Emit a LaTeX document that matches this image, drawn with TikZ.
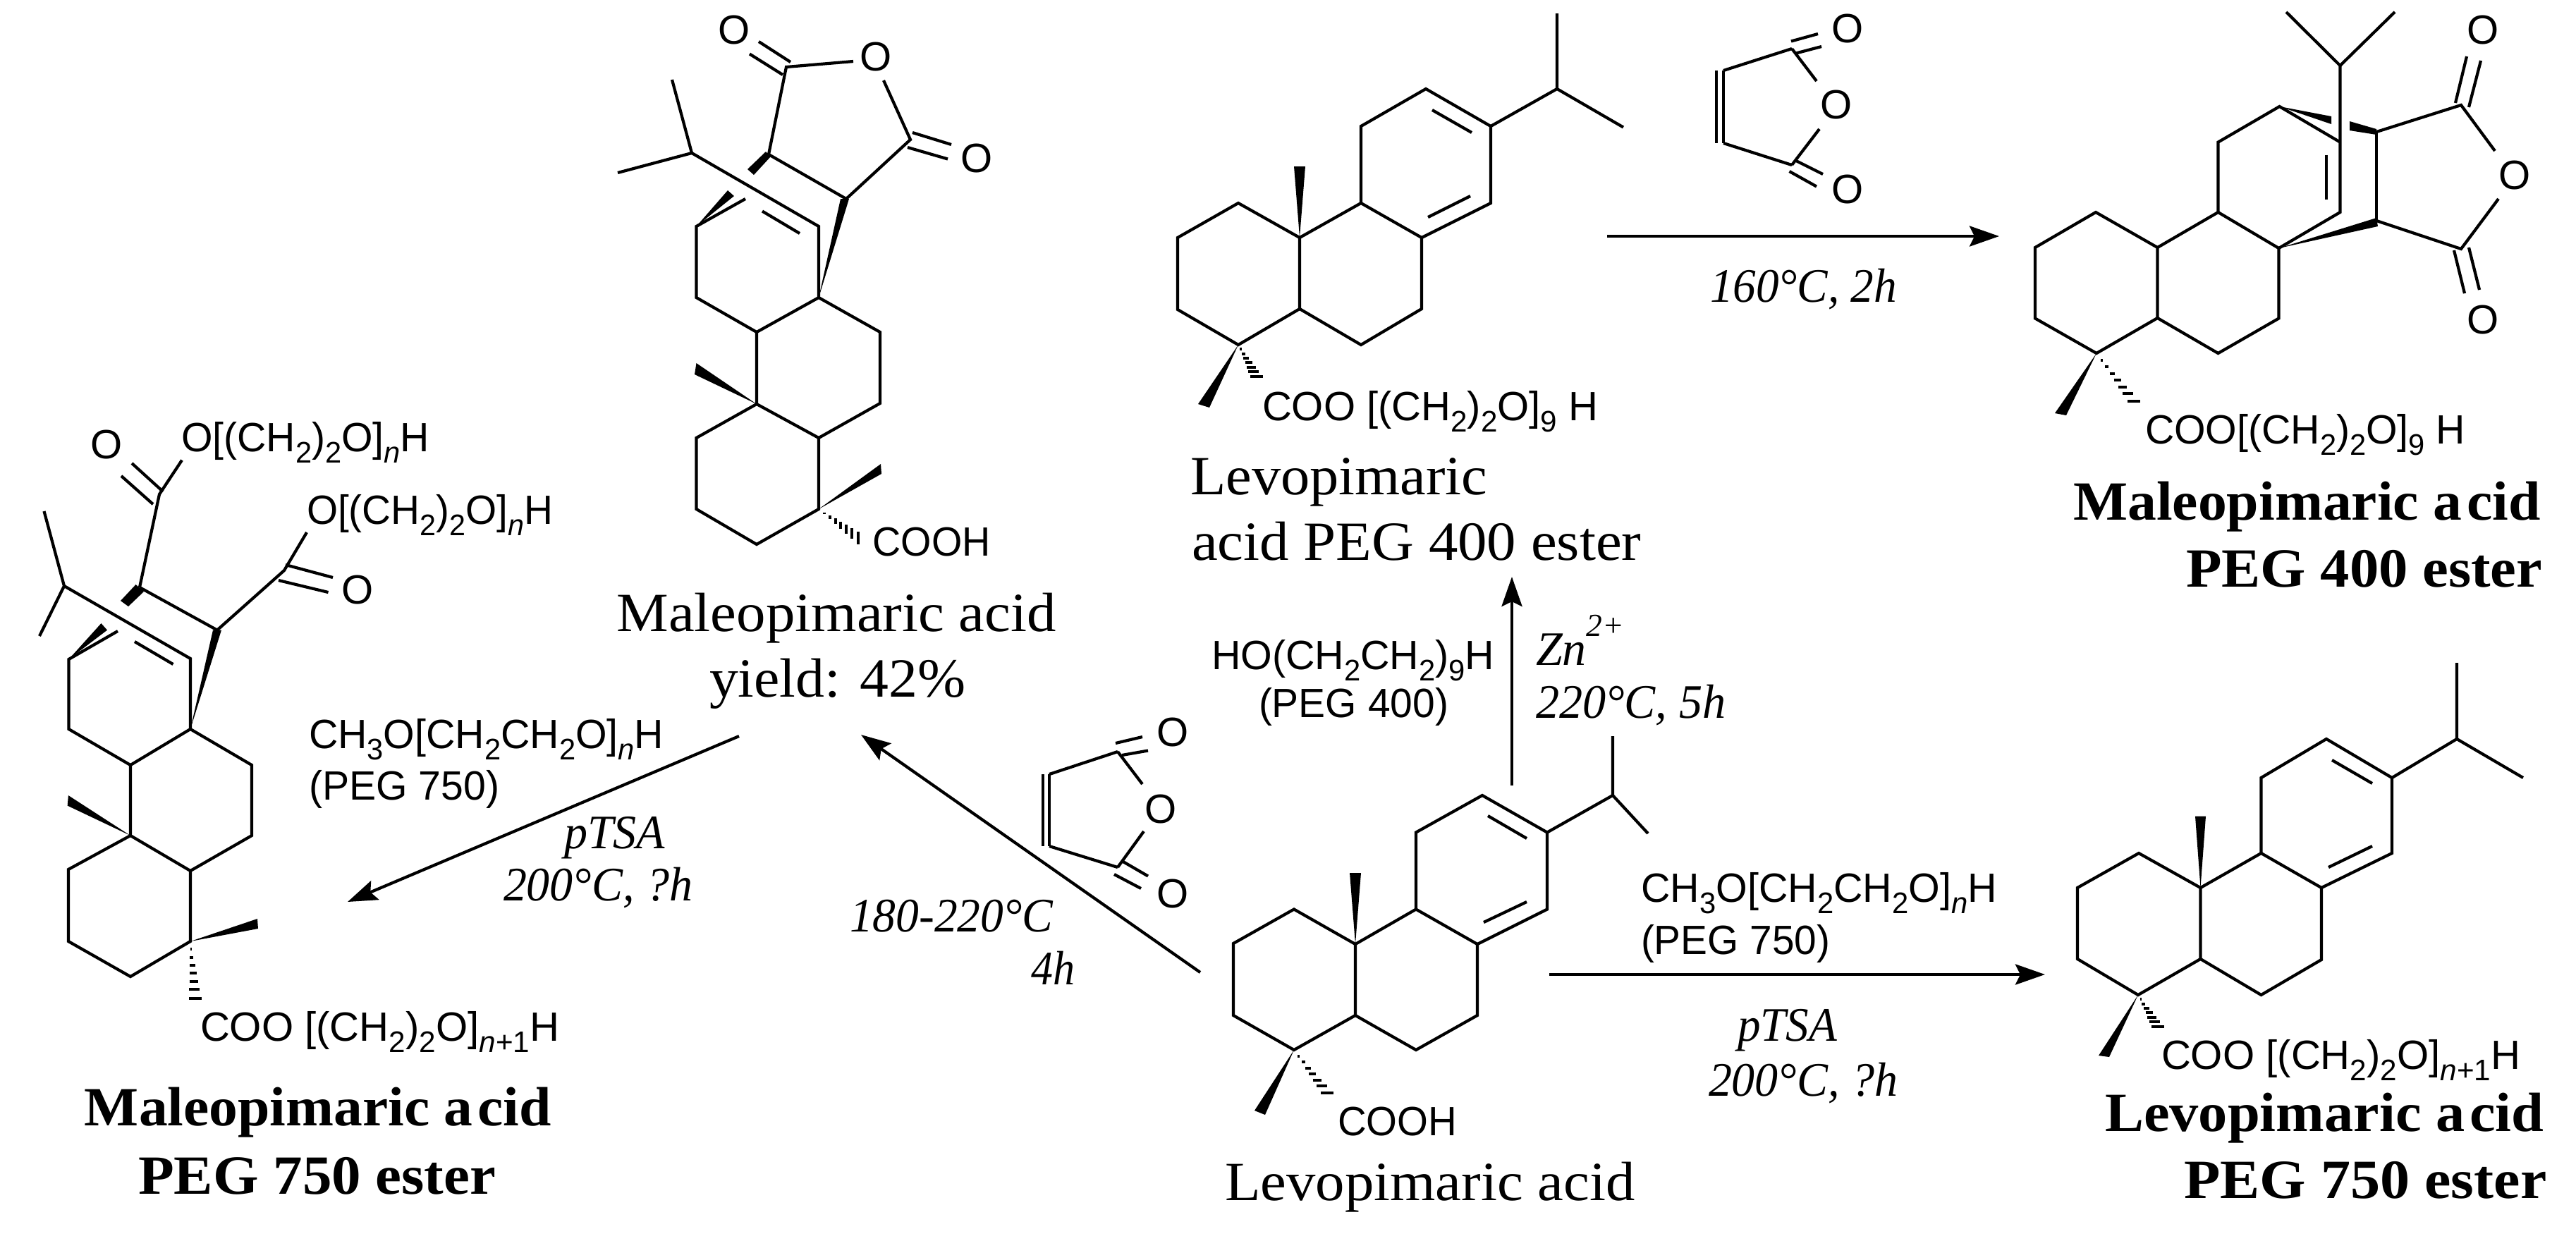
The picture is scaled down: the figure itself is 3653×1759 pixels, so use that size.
\documentclass[tikz,border=0pt]{standalone}
\usepackage{fontspec}
\usetikzlibrary{arrows.meta}
\newfontfamily\sansf{Liberation Sans}
\newfontfamily\serf{Liberation Serif}
\newsavebox\fitbox
% scale a text horizontally to a target width given in picture units
\newcommand\fitw[2]{\sbox\fitbox{#2}\pgfmathsetmacro\fitr{#1*0.284527/\wd\fitbox}\scalebox{\fitr}[1]{\usebox\fitbox}}
\newcommand\sbs[1]{\raisebox{-0.28em}{\fontsize{12}{12}\selectfont #1}}
\newcommand\hashb[4]{\foreach \t in {0.14,0.28,0.42,0.56,0.70,0.84,1.0}{%
  \pgfmathsetmacro\hx{#1+(#3-#1)*\t}%
  \pgfmathsetmacro\hy{#2+(#4-#2)*\t}%
  \pgfmathsetmacro\ax{abs(#3-#1)}%
  \pgfmathsetmacro\ay{abs(#4-#2)}%
  \pgfmathsetmacro\hdx{\ay>\ax ? 9*\t : 0}%
  \pgfmathsetmacro\hdy{\ay>\ax ? 0 : 9*\t}%
  \draw[hashline] ({\hx-\hdx},{\hy-\hdy}) -- ({\hx+\hdx},{\hy+\hdy});}}
\tikzset{
  x=0.01cm,y=-0.01cm,
  bond/.style={line width=0.042cm,line join=miter,line cap=butt},
  hashline/.style={line width=0.04cm},
  wedgeb/.style={fill=black,draw=none},
  rxn/.style={line width=0.042cm,-{Stealth[length=0.42cm,width=0.29cm,inset=0.07cm]}},
  lab/.style={anchor=base west,inner sep=0pt,outer sep=0pt},
  sanstxt/.style={lab,font=\fontsize{16.5}{19}\selectfont\sansf},
  nametxt/.style={lab,font=\fontsize{22.3}{26}\selectfont\serf},
  boldtxt/.style={lab,font=\fontsize{22.3}{26}\selectfont\serf\bfseries},
  condtxt/.style={lab,font=\fontsize{19.4}{23}\selectfont\serf\itshape},
  atomo/.style={anchor=center,inner sep=0pt,outer sep=0pt,font=\fontsize{16.5}{19}\selectfont\sansf},
}
\begin{document}
\begin{tikzpicture}
\useasboundingbox[fill=white] (0,0) rectangle (3653,1759);

% ---------- Levopimaric acid ----------
\draw[bond] (1835,1489)--(1749,1440)--(1749,1338)--(1835,1289.5)--(1922,1339)--(1922,1440)--cycle;
\draw[bond] (1922,1440)--(2008,1489)--(2095,1440)--(2095,1339)--(2008,1289.5)--(1922,1339);
\draw[bond] (2008,1289.5)--(2008,1180.5)--(2102,1128)--(2194,1180.5)--(2194,1289.5)--(2095,1339);
\draw[bond] (2110,1157)--(2165,1189) (2104,1308)--(2165,1279);
\draw[bond] (2194,1180.5)--(2287,1128)--(2287,1044) (2287,1128)--(2337,1182);
\fill[wedgeb] (1922,1339)--(1914,1238)--(1930,1238)--cycle;
\fill[wedgeb] (1835,1489)--(1794,1581)--(1779,1575)--cycle;
\hashb{1835}{1489}{1882}{1550}
\node[sanstxt] (tCOOHa) at (1897,1610) {\fitw{169}{COOH}};
\node[nametxt] (tLevo) at (1737,1702) {\fitw{581}{Levopimaric acid}};

% ---------- Levopimaric acid PEG 400 ester ----------
\draw[bond] (1756,489)--(1670,439)--(1670,337)--(1756,288)--(1843,337)--(1843,438)--cycle;
\draw[bond] (1843,438)--(1930,489)--(2016,438)--(2016,337)--(1930,288)--(1843,337);
\draw[bond] (1930,288)--(1930,179)--(2022,126)--(2114,179)--(2114,288)--(2016,337);
\draw[bond] (2031,156)--(2087,188) (2025,308)--(2085,278);
\draw[bond] (2114,179)--(2208,126)--(2208,19) (2208,126)--(2302,180.5);
\fill[wedgeb] (1843,337)--(1835,236)--(1851,236)--cycle;
\fill[wedgeb] (1756,489)--(1715,578)--(1699,573)--cycle;
\hashb{1756}{489}{1782}{534}
\node[sanstxt] (tCOOb) at (1790,596) {\fitw{476}{COO [(CH\sbs{2})\sbs{2}O]\sbs{9} H}};
\node[nametxt] (tLevoA) at (1688,701) {\fitw{421}{Levopimaric}};
\node[nametxt] (tLevoB) at (1690,794) {\fitw{637}{acid PEG 400 ester}};

% ---------- Maleic anhydride, top ----------
\draw[bond] (2444,100)--(2444,203) (2434,100)--(2434,203);
\draw[bond] (2444,100)--(2541,69) (2444,203)--(2541,234);
\draw[bond] (2541,69)--(2576,115) (2541,234)--(2580,183);
\draw[bond] (2540,58.5)--(2578,48) (2545,76)--(2583,66);
\draw[bond] (2537.5,243)--(2576,264.5) (2547,228)--(2585,247);
\node[atomo] (oTa) at (2604,149) {O};
\node[atomo] (oTb) at (2620,41) {O};
\node[atomo] (oTc) at (2620,269) {O};

% ---------- Reaction to Maleopimaric PEG 400 ----------
\coordinate (r1s) at (2279,335);
\coordinate (r1e) at (2835,335);
\draw[rxn] (r1s) -- (r1e);
\node[condtxt] (t160) at (2425,428) {\fitw{265}{160°C, 2h}};

% ---------- Maleopimaric acid PEG 400 ester ----------
\draw[bond] (2973,501)--(2886,451.5)--(2886,351)--(2972,301)--(3059.5,351)--(3059.5,451)--cycle;
\draw[bond] (3059.5,451)--(3145.5,501)--(3231.5,451.5)--(3231.5,352)--(3145.5,301)--(3059.5,351);
\draw[bond] (3145.5,301)--(3145.5,201.6)--(3232.5,151)--(3318.5,201.6);
\draw[bond] (3231.5,352)--(3318.5,301)--(3318.5,93);
\draw[bond] (3299,219.5)--(3299,283);
\draw[bond] (3242,17)--(3318.5,93)--(3396,17);
\fill[wedgeb] (3232.5,151)--(3306,165)--(3306,176)--cycle;
\fill[wedgeb] (3332,172)--(3370,183)--(3370,191)--(3332,185)--cycle;
\draw[bond] (3370,187)--(3370,313);
\fill[wedgeb] (3231.5,352)--(3370,309)--(3372,321)--cycle;
\draw[bond] (3370,187)--(3490,149)--(3538,214);
\draw[bond] (3370,313)--(3490,353)--(3543,282);
\draw[bond] (3482,146)--(3498,80) (3501,152)--(3518,86);
\draw[bond] (3480,355)--(3495,416) (3501,351)--(3516,411);
\node[atomo] (oRa) at (3566,249) {O};
\node[atomo] (oRb) at (3521,43) {O};
\node[atomo] (oRc) at (3521,454) {O};
\fill[wedgeb] (2973,501)--(2930,589)--(2914,586)--cycle;
\hashb{2973}{501}{3026}{569}
\node[sanstxt] (tCOOc) at (3042,629) {\fitw{454}{COO[(CH\sbs{2})\sbs{2}O]\sbs{9} H}};
\node[boldtxt] (tMalA) at (2940,737) {\fitw{662}{Maleopimaric a\kern0.08em cid}};
\node[boldtxt] (tMalB) at (3100,832) {\fitw{505}{PEG 400 ester}};

% ---------- Up arrow ----------
\coordinate (r2s) at (2144,1114);
\coordinate (r2e) at (2144,818);
\draw[rxn] (r2s) -- (r2e);
\node[sanstxt] (tHO) at (1718,949) {\fitw{401}{HO(CH\sbs{2}CH\sbs{2})\sbs{9}H}};
\node[sanstxt] (tP400) at (1785,1017) {\fitw{269}{(PEG 400)}};
\node[condtxt] (tZn) at (2178,943) {\fitw{125}{Zn\raisebox{0.6em}{\fontsize{13}{13}\selectfont 2+}}};
\node[condtxt] (t220) at (2178,1018) {\fitw{269}{220°C, 5h}};

% ---------- Reaction to Levopimaric PEG 750 ----------
\coordinate (r3s) at (2197,1382);
\coordinate (r3e) at (2900,1382);
\draw[rxn] (r3s) -- (r3e);
\node[sanstxt] (tCH3b) at (2327.5,1279) {\fitw{504}{CH\sbs{3}O[CH\sbs{2}CH\sbs{2}O]\sbs{\textit{n}}H}};
\node[sanstxt] (tP750b) at (2327,1353) {\fitw{268}{(PEG 750)}};
\node[condtxt] (tpTSAb) at (2464,1476) {\fitw{141}{pTSA}};
\node[condtxt] (t200b) at (2423,1554) {\fitw{268}{200°C, ?h}};

% ---------- Levopimaric acid PEG 750 ester ----------
\draw[bond] (3032,1411)--(2946,1360)--(2946,1259)--(3033,1210)--(3120.5,1259)--(3120.5,1360)--cycle;
\draw[bond] (3120.5,1360)--(3206.5,1411)--(3292,1361)--(3292,1259)--(3206.5,1210)--(3120.5,1259);
\draw[bond] (3206.5,1210)--(3206.5,1103)--(3299,1048)--(3392,1103)--(3392,1210)--(3292,1259);
\draw[bond] (3307,1078)--(3364,1111) (3302,1230)--(3364,1200);
\draw[bond] (3392,1103)--(3484,1048)--(3484,940) (3484,1048)--(3578,1103);
\fill[wedgeb] (3120.5,1259)--(3113,1157.5)--(3128,1157.5)--cycle;
\fill[wedgeb] (3032,1411)--(2991,1499)--(2976,1497)--cycle;
\hashb{3032}{1411}{3060}{1456}
\node[sanstxt] (tCOOd) at (3065,1516) {\fitw{509}{COO [(CH\sbs{2})\sbs{2}O]\sbs{\textit{n}+1}H}};
\node[boldtxt] (tLevC) at (2985,1604) {\fitw{622}{Levopimaric a\kern0.08em cid}};
\node[boldtxt] (tLevD) at (3097,1699) {\fitw{514}{PEG 750 ester}};

% ---------- Reaction to Maleopimaric acid ----------
\coordinate (r4s) at (1702,1379);
\coordinate (r4e) at (1221,1042);
\draw[rxn] (r4s) -- (r4e);
\node[condtxt] (t180) at (1205,1321) {\fitw{288}{180-220°C}};
\node[condtxt] (t4h) at (1462.5,1396) {\fitw{62}{4h}};

% ---------- Maleic anhydride, left ----------
\draw[bond] (1488,1098)--(1488,1200) (1479,1098)--(1479,1200);
\draw[bond] (1488,1098)--(1585,1066) (1488,1200)--(1585,1230);
\draw[bond] (1585,1066)--(1620,1112) (1585,1230)--(1622,1179);
\draw[bond] (1582,1054)--(1620,1045) (1591,1071)--(1628,1064.5);
\draw[bond] (1580,1240)--(1618,1260) (1591,1221)--(1628,1242.5);
\node[atomo] (oLa) at (1646,1147) {O};
\node[atomo] (oLb) at (1663,1038) {O};
\node[atomo] (oLc) at (1663,1267) {O};

% ---------- Maleopimaric acid ----------
\draw[bond] (1161,722)--(1073,772)--(987.5,722)--(987.5,621)--(1073,573)--(1161,621)--cycle;
\draw[bond] (1161,621)--(1248,572)--(1248,471)--(1161,422)--(1073,471)--(1073,573);
\draw[bond] (1073,471)--(987.5,422)--(987.5,321)--(1057,282);
\draw[bond] (1161,422)--(1161,321)--(981,217);
\draw[bond] (1081,299.5)--(1134,331);
\draw[bond] (953,113)--(981,217)--(876,245);
\fill[wedgeb] (987.5,321)--(1032,270)--(1041,278)--cycle;
\fill[wedgeb] (1086,215)--(1093,222)--(1069,248)--(1060,240)--cycle;
\draw[bond] (1090,219)--(1200,282)--(1291,198)--(1253,114);
\draw[bond] (1090,219)--(1115,95)--(1210,87);
\fill[wedgeb] (1161,422)--(1192,282)--(1204,282)--cycle;
\draw[bond] (1063,76.5)--(1110,106) (1076,59)--(1121,88);
\draw[bond] (1294,188)--(1349,205) (1287,209)--(1344,225.5);
\node[atomo] (oMa) at (1242,81) {O};
\node[atomo] (oMb) at (1041,43) {O};
\node[atomo] (oMc) at (1385,224.5) {O};
\fill[wedgeb] (1073,573)--(987.5,515)--(985,531)--cycle;
\fill[wedgeb] (1161,722)--(1249,658)--(1250,672)--cycle;
\hashb{1161}{722}{1217}{763}
\node[sanstxt] (tCOOH) at (1237.5,788) {\fitw{167}{COOH}};
\node[nametxt] (tMalC) at (874.5,895) {\fitw{623}{Maleopimaric acid}};
\node[nametxt] (tYield) at (1006,988) {\fitw{363}{yield: 42\%}};

% ---------- Reaction to Maleopimaric PEG 750 ----------
\coordinate (r5s) at (1048,1044);
\coordinate (r5e) at (493,1279);
\draw[rxn] (r5s) -- (r5e);
\node[sanstxt] (tCH3a) at (438,1061) {\fitw{503}{CH\sbs{3}O[CH\sbs{2}CH\sbs{2}O]\sbs{\textit{n}}H}};
\node[sanstxt] (tP750a) at (438,1134.5) {\fitw{270}{(PEG 750)}};
\node[condtxt] (tpTSAa) at (800,1203) {\fitw{143}{pTSA}};
\node[condtxt] (t200a) at (714,1277.5) {\fitw{268}{200°C, ?h}};

% ---------- Maleopimaric acid PEG 750 ester ----------
\draw[bond] (270,1335)--(185,1385)--(97,1335)--(97,1233)--(185,1185)--(270,1235)--cycle;
\draw[bond] (270,1235)--(357,1185)--(357,1085)--(270,1034)--(185,1085)--(185,1185);
\draw[bond] (185,1085)--(97.5,1034)--(97.5,935)--(167,895);
\draw[bond] (270,1034)--(270,934)--(91,831);
\draw[bond] (191,910)--(245.5,942);
\draw[bond] (62.5,725)--(91,831)--(56,902);
\fill[wedgeb] (97.5,935)--(143.5,884)--(152,893.6)--cycle;
\fill[wedgeb] (192.6,829)--(204,839)--(182,860)--(171,852)--cycle;
\draw[bond] (198,833)--(308,893.6)--(403,809)--(435,755);
\draw[bond] (198,833)--(226,701)--(258,652.6);
\fill[wedgeb] (270,1034)--(302,893.6)--(314,893.6)--cycle;
\draw[bond] (172,675)--(217,715) (187,657)--(231,697);
\draw[bond] (405,801)--(472,819) (395,823)--(465.5,840);
\node[atomo] (oPa) at (151,631) {O};
\node[atomo] (oPb) at (507,837) {O};
\node[sanstxt] (tORa) at (257,640.6) {\fitw{352}{O[(CH\sbs{2})\sbs{2}O]\sbs{\textit{n}}H}};
\node[sanstxt] (tORb) at (435,743) {\fitw{349}{O[(CH\sbs{2})\sbs{2}O]\sbs{\textit{n}}H}};
\fill[wedgeb] (185,1185)--(96.9,1128)--(95.7,1142.6)--cycle;
\fill[wedgeb] (270,1335)--(365,1303)--(366,1317)--cycle;
\hashb{270}{1335}{277}{1416}
\node[sanstxt] (tCOOe) at (284,1476) {\fitw{509}{COO [(CH\sbs{2})\sbs{2}O]\sbs{\textit{n}+1}H}};
\node[boldtxt] (tMalD) at (120,1596) {\fitw{661}{Maleopimaric a\kern0.08em cid}};
\node[boldtxt] (tMalE) at (196,1693) {\fitw{507}{PEG 750 ester}};
\end{tikzpicture}
\end{document}
